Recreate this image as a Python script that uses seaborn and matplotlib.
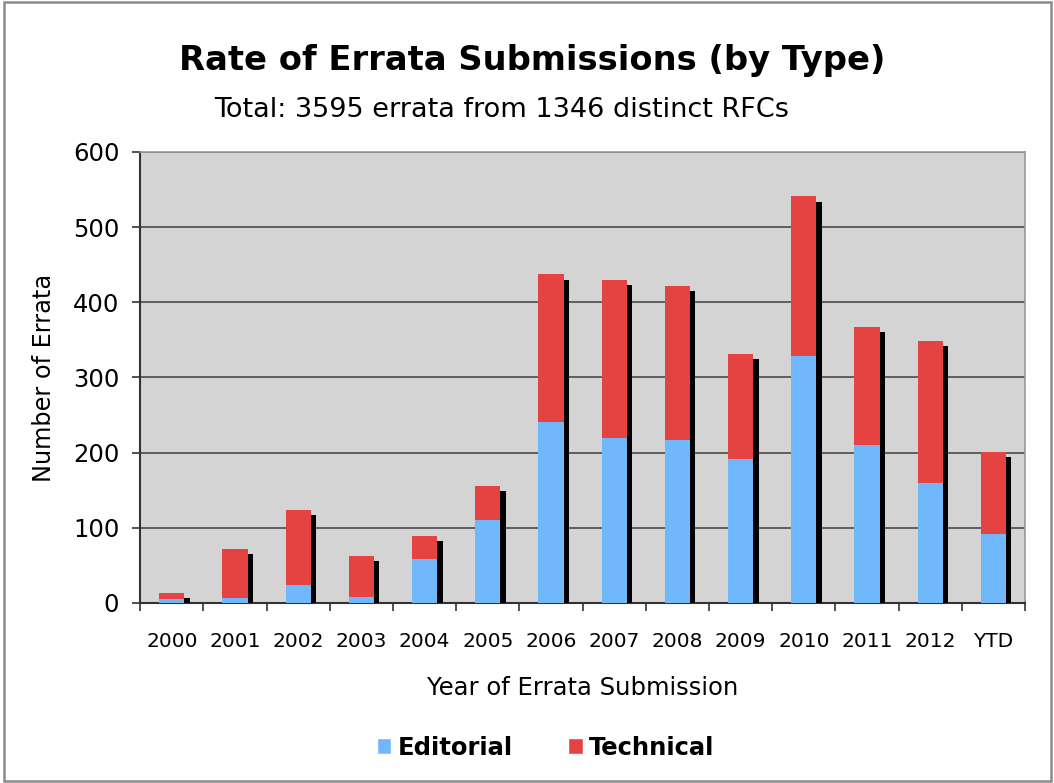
import matplotlib
matplotlib.use("Agg")
import matplotlib.pyplot as plt
import matplotlib.patheffects as pe
from matplotlib.patches import Patch, Rectangle
import seaborn as sns
import pandas as pd

years = ["2000", "2001", "2002", "2003", "2004", "2005", "2006", "2007",
         "2008", "2009", "2010", "2011", "2012", "YTD"]
editorial = [5, 6, 24, 8, 58, 110, 241, 220, 217, 192, 328, 210, 159, 92]
total = [13, 72, 124, 63, 89, 156, 437, 430, 422, 331, 541, 367, 349, 201]
yticks = [0, 100, 200, 300, 400, 500, 600]

blue = "#70b8fb"
red = "#e54341"

sns.set_theme(style="white")
plt.rcParams['font.family'] = ['DejaVu Sans']
plt.rcParams['text.color'] = 'black'
plt.rcParams['axes.labelcolor'] = 'black'
plt.rcParams['xtick.color'] = 'black'
plt.rcParams['ytick.color'] = 'black'

df = pd.DataFrame({"year": years, "editorial": editorial, "total": total})

fig = plt.figure(figsize=(10.54, 7.83), dpi=100)
fig.patches.append(Rectangle((0.004, 0.003), 0.993, 0.994, transform=fig.transFigure,
                             fill=False, edgecolor="#8a8a8a", linewidth=1.8))
ax = fig.add_axes([0.133, 0.2299, 0.8395, 0.5761])
ax.set_facecolor("#d4d4d4")

sns.barplot(data=df, x="year", y="total", order=years, color=red,
            width=0.4, saturation=1, ax=ax, zorder=3)
n_tot = len(ax.patches)
for p in ax.patches[:n_tot]:
    p.set_edgecolor("none")
    p.set_path_effects([pe.SimplePatchShadow(offset=(3.8, -3.8), shadow_rgbFace="black", alpha=1.0),
                        pe.Normal()])
sns.barplot(data=df, x="year", y="editorial", order=years, color=blue,
            width=0.4, saturation=1, ax=ax, zorder=4)
for p in ax.patches[n_tot:]:
    p.set_edgecolor("none")

ax.set_ylim(0, 600)
ax.set_xlim(-0.5, len(years) - 0.5)
ax.set_yticks(yticks)
ax.set_yticklabels([str(t) for t in yticks], fontsize=17.5)
ax.yaxis.grid(True, color="#555555", linewidth=1.3, zorder=1)
ax.set_axisbelow(True)
ax.set_xticks(range(len(years)))
ax.set_xticklabels(years, fontsize=14.5)
ax.set_xticks([i - 0.5 for i in range(len(years) + 1)], minor=True)
ax.tick_params(axis="x", which="major", length=0, pad=21)
ax.tick_params(axis="x", which="minor", length=6, width=1.2, color="#333333", direction="out", bottom=True)
ax.tick_params(axis="y", length=6, width=1.2, color="#333333", direction="out", left=True, pad=9)

for s in ["top", "right"]:
    ax.spines[s].set_color("#999999")
    ax.spines[s].set_linewidth(1.2)
for s in ["left", "bottom"]:
    ax.spines[s].set_color("#333333")
    ax.spines[s].set_linewidth(1.5)

ax.set_xlabel("Year of Errata Submission", fontsize=17.5, labelpad=18)
ax.set_ylabel("Number of Errata", fontsize=17.3, labelpad=12)

fig.text(0.505, 0.923, "Rate of Errata Submissions (by Type)", ha="center", va="center",
         fontsize=24.3, fontweight="bold")
fig.text(0.476, 0.860, "Total: 3595 errata from 1346 distinct RFCs", ha="center", va="center",
         fontsize=19.5)

handles = [Patch(facecolor=blue, label="Editorial"), Patch(facecolor=red, label="Technical")]
fig.legend(handles=handles, loc="center", bbox_to_anchor=(0.5176, 0.045), ncol=2, frameon=False,
           prop={"weight": "bold", "size": 17.5}, handlelength=0.6, handleheight=0.6,
           handletextpad=0.25, columnspacing=2.3)

fig.savefig("out.png", dpi=100)
